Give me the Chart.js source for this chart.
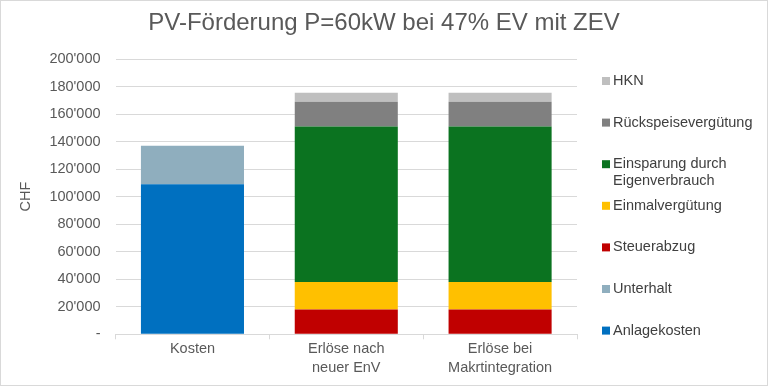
<!DOCTYPE html>
<html>
<head>
<meta charset="utf-8">
<script src="https://cdn.jsdelivr.net/npm/chart.js@4/dist/chart.umd.min.js"></script>
<style>
  html, body { margin: 0; padding: 0; background: #fff; }
  #wrap { width: 768px; height: 386px; box-sizing: border-box; border: 1px solid #d9d9d9; }
</style>
</head>
<body>
<div id="wrap"><canvas id="pvChart" width="766" height="384"></canvas></div>
<script>
// categories
const categories = ["Kosten", ["Erlöse nach", "neuer EnV"], ["Erlöse bei", "Makrtintegration"]];

// series values (CHF), stacked bottom to top
const anlagekosten = [109000, null, null];
const unterhalt = [28000, null, null];
const steuerabzug = [null, 18000, 18000];
const einmalverguetung = [null, 20000, 20000];
const eigenverbrauch = [null, 113000, 113000];
const rueckspeise = [null, 18000, 18000];
const hkn = [null, 6500, 6500];

// y ticks
const yMax = 200000;
const yStep = 20000;

const chartTitle = "PV-Förderung P=60kW bei 47% EV mit ZEV";
const textColor = "#595959";
const fontFamily = "'Liberation Sans', Arial, sans-serif";

const datasets = [
  { label: "Anlagekosten", data: anlagekosten, backgroundColor: "#0070C0" },
  { label: "Unterhalt", data: unterhalt, backgroundColor: "#8FAEBE" },
  { label: "Steuerabzug", data: steuerabzug, backgroundColor: "#C00000" },
  { label: "Einmalvergütung", data: einmalverguetung, backgroundColor: "#FFC000" },
  { label: ["Einsparung durch", "Eigenverbrauch"], data: eigenverbrauch, backgroundColor: "#0B7320" },
  { label: "Rückspeisevergütung", data: rueckspeise, backgroundColor: "#808080" },
  { label: "HKN", data: hkn, backgroundColor: "#BFBFBF" },
];

// title centred on the whole canvas + legend on the right (HKN on top)
const decor = {
  id: "decor",
  afterDraw(chart) {
    const ctx = chart.ctx;
    ctx.save();
    ctx.fillStyle = textColor;
    ctx.font = "24px " + fontFamily;
    ctx.textAlign = "center";
    ctx.textBaseline = "middle";
    ctx.fillText(chartTitle, chart.width / 2, 22);

    const items = chart.data.datasets.slice().reverse();
    const top = 80, step = 41.6;
    ctx.font = "14.5px " + fontFamily;
    ctx.textAlign = "left";
    items.forEach((ds, i) => {
      const y = top + i * step;
      ctx.fillStyle = ds.backgroundColor;
      ctx.fillRect(601, y - 4, 8, 8);
      ctx.fillStyle = "#404040";
      const lines = Array.isArray(ds.label) ? ds.label : [ds.label];
      lines.forEach((t, j) => ctx.fillText(t, 612, y + j * 16.5));
    });
    ctx.restore();
  }
};

new Chart(document.getElementById("pvChart").getContext("2d"), {
  type: "bar",
  data: { labels: categories, datasets: datasets },
  options: {
    responsive: false,
    animation: false,
    datasets: { bar: { categoryPercentage: 1, barPercentage: 0.67 } },
    layout: { padding: { left: 6, right: 190, top: 58, bottom: 8 } },
    plugins: {
      legend: { display: false },
      tooltip: { enabled: false },
      title: { display: false },
    },
    scales: {
      x: {
        stacked: true,
        grid: { drawOnChartArea: false, offset: true, tickLength: 5, color: "#d9d9d9" },
        border: { color: "#d9d9d9" },
        ticks: { color: textColor, font: { family: fontFamily, size: 14.5, lineHeight: 1.3 }, padding: 0, maxRotation: 0 },
      },
      y: {
        stacked: true,
        min: 0,
        max: yMax,
        grid: { color: "#d9d9d9", drawTicks: false },
        border: { display: false },
        title: {
          display: true,
          text: "CHF",
          color: textColor,
          font: { family: fontFamily, size: 14.5 },
          padding: { top: 10, bottom: 0 },
        },
        ticks: {
          stepSize: yStep,
          color: textColor,
          font: { family: fontFamily, size: 14.5 },
          padding: 15,
          callback: (v) => v === 0 ? "-" : String(v).replace(/\B(?=(\d{3})+(?!\d))/g, "'"),
        },
      },
    },
  },
  plugins: [decor],
});
</script>
</body>
</html>
